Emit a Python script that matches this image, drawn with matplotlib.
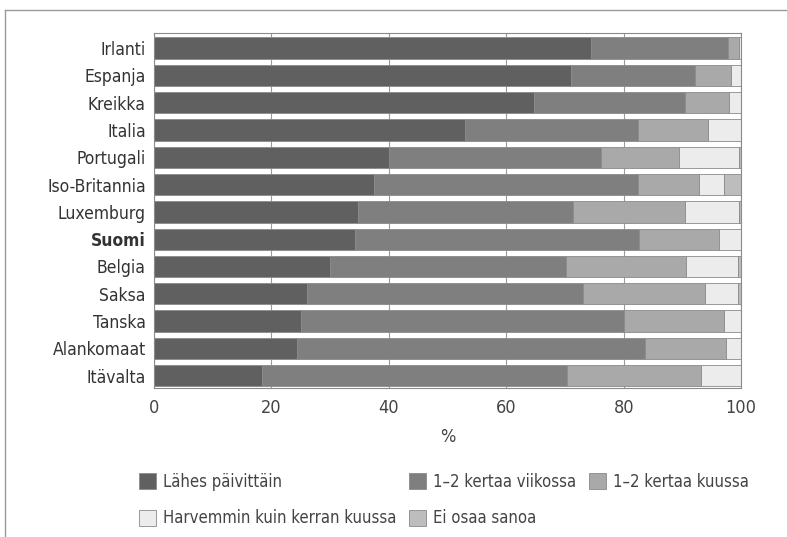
import matplotlib
matplotlib.use("Agg")
import matplotlib.pyplot as plt
import numpy as np
from matplotlib.lines import Line2D

plt.rcParams['font.family'] = ['DejaVu Sans']
plt.rcParams['font.stretch'] = 'condensed'

maat = ['Irlanti', 'Espanja', 'Kreikka', 'Italia', 'Portugali', 'Iso-Britannia',
        'Luxemburg', 'Suomi', 'Belgia', 'Saksa', 'Tanska', 'Alankomaat', 'Itävalta']

# osuudet (%)
paivittain = [74.5, 71.0, 64.7, 53.0, 40.0, 37.5, 34.7, 34.2, 30.0, 26.0, 25.1, 24.4, 18.4]
viikossa   = [23.2, 21.2, 25.7, 29.4, 36.2, 44.9, 36.6, 48.4, 40.2, 47.0, 55.0, 59.3, 52.0]
kuussa     = [1.9,  6.0,  7.5,  11.9, 13.2, 10.5, 19.1, 13.6, 20.4, 20.9, 17.0, 13.7, 22.7]
harvemmin  = [0.4,  1.8,  2.1,  5.7,  10.2, 4.1,  9.2,  3.8,  8.9,  5.6,  2.9,  2.6,  6.9]
ei_osaa    = [0.0,  0.0,  0.0,  0.0,  0.4,  3.0,  0.4,  0.0,  0.5,  0.5,  0.0,  0.0,  0.0]

sarjat = [paivittain, viikossa, kuussa, harvemmin, ei_osaa]
nimet = ['Lähes päivittäin', '1–2 kertaa viikossa', '1–2 kertaa kuussa',
         'Harvemmin kuin kerran kuussa', 'Ei osaa sanoa']
varit = ['#606060', '#7f7f7f', '#a9a9a9', '#ececec', '#bdbdbd']

fig = plt.figure(figsize=(7.87, 5.37), dpi=100)
ax = fig.add_axes([0.1957, 0.2775, 0.746, 0.661])

y = np.arange(len(maat))
vasen = np.zeros(len(maat))
palkit = []
for arvot, nimi, vari in zip(sarjat, nimet, varit):
    b = ax.barh(y, arvot, left=vasen, height=0.78, color=vari,
                edgecolor='#8a8a8a', linewidth=0.6, label=nimi, zorder=2)
    palkit.append(b)
    vasen = vasen + np.array(arvot)

ax.set_xlim(0, 100)
ax.set_ylim(len(maat) - 0.55, -0.55)
ax.set_yticks(y)
ax.set_yticklabels(maat, fontsize=12.5)
for lab in ax.get_yticklabels():
    if lab.get_text() == 'Suomi':
        lab.set_fontweight('bold')
ax.set_xticks([0, 20, 40, 60, 80, 100])
ax.tick_params(axis='x', labelsize=13, length=0, pad=8, colors='#444444')
ax.tick_params(axis='y', length=0, pad=6, colors='#333333')
ax.set_xlabel('%', fontsize=13, color='#444444', labelpad=8)
ax.grid(axis='x', color='#9a9a9a', linewidth=0.8, zorder=0)
for s in ax.spines.values():
    s.set_color('#8a8a8a')

# legenda: kolme saraketta
jarj = [0, 3, 1, 4, 2]
fig.legend([palkit[i] for i in jarj], [nimet[i] for i in jarj],
           ncol=3, loc='upper left', bbox_to_anchor=(0.158, 0.147),
           frameon=False, fontsize=12, handlelength=1.0, handleheight=1.1,
           handletextpad=0.4, columnspacing=0.8, labelspacing=1.1,
           labelcolor='#444444')

# kehys vasemmalla ja ylhäällä
fig.add_artist(Line2D([0.006, 0.006], [0.0, 0.981], color='#999999', lw=1))
fig.add_artist(Line2D([0.006, 1.0], [0.981, 0.981], color='#999999', lw=1))

fig.savefig('out.png', dpi=100)
